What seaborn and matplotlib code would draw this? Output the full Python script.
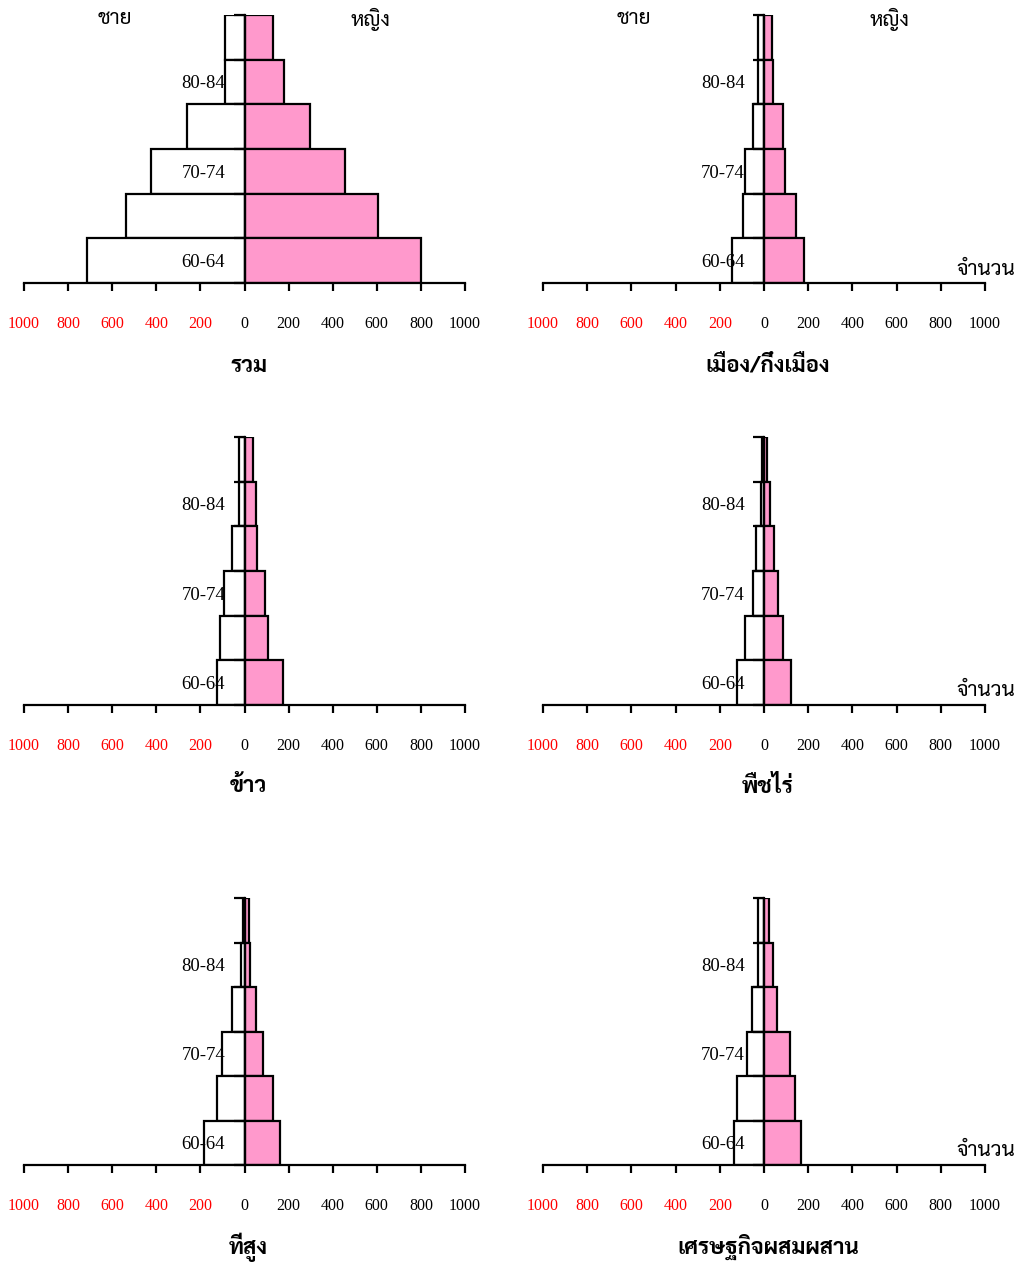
import numpy as np
import pandas as pd
import matplotlib
matplotlib.use('Agg')
import matplotlib.pyplot as plt
import seaborn as sns
from matplotlib import font_manager as fm
from matplotlib.ticker import FixedLocator

# ---------------- data ----------------
ages = ['60-64', '65-69', '70-74', '75-79', '80-84', '85+']
age_tick_labels = ['60-64', '', '70-74', '', '80-84', '']
x_ticks = [-1000, -800, -600, -400, -200, 0, 200, 400, 600, 800, 1000]
x_tick_labels = ['1000', '800', '600', '400', '200', '0', '200', '400', '600', '800', '1000']

total_male = [713, 538, 422, 262, 88, 88]
total_female = [801, 606, 454, 295, 178, 128]
urban_male = [146, 95, 87, 51, 25, 25]
urban_female = [180, 143, 94, 86, 42, 38]
rice_male = [124, 109, 94, 58, 23, 23]
rice_female = [174, 107, 94, 56, 53, 38]
field_male = [121, 86, 50, 35, 14, 8]
field_female = [124, 87, 65, 44, 25, 15]
highland_male = [183, 124, 101, 58, 15, 8]
highland_female = [159, 130, 86, 50, 27, 19]
mixed_male = [137, 121, 78, 56, 25, 25]
mixed_female = [168, 139, 116, 59, 42, 23]

panel_titles = ['รวม', 'เมือง/กึ่งเมือง', 'ข้าว', 'พืชไร่', 'ที่สูง', 'เศรษฐกิจผสมผสาน']
male_label = 'ชาย'
female_label = 'หญิง'
count_label = 'จำนวน'

male_series = [total_male, urban_male, rice_male, field_male, highland_male, mixed_male]
female_series = [total_female, urban_female, rice_female, field_female, highland_female, mixed_female]

# ---------------- fonts ----------------
sns.set_style('white')
plt.rcParams['text.color'] = 'black'


def find_thai_font():
    try:
        from fontTools.ttLib import TTFont
    except Exception:
        return None
    cands = []
    for f in fm.fontManager.ttflist:
        try:
            tt = TTFont(f.fname, fontNumber=0, lazy=True)
            cmap = tt.getBestCmap()
            if cmap and 0x0E0A in cmap and 0x0E0D in cmap:
                cands.append(f.name)
        except Exception:
            pass
    if not cands:
        return None
    pref = ['Norasi', 'Sarabun', 'Noto Serif Thai', 'Noto Sans Thai', 'Garuda', 'Loma', 'Tlwg']
    for p in pref:
        for c in cands:
            if p.lower() in c.lower():
                return c
    return cands[0]


thai_font = find_thai_font()
thai_family = [thai_font, 'DejaVu Sans'] if thai_font else ['DejaVu Sans']
num_family = ['Liberation Serif', 'DejaVu Serif']
plt.rcParams['font.family'] = num_family

W, H = 1019, 1266
fig = plt.figure(figsize=(W / 100, H / 100), dpi=100)
fig.patch.set_facecolor('white')

# pixel geometry of plot areas (left, right, top, bottom)
cols = [(24, 465), (543, 985)]
rows = [(15, 283), (437, 705), (898, 1165)]
title_y = [366, 787, 1247]

female_color = '#FF99CC'
order_top_down = ages[::-1]

for i in range(6):
    r, c = divmod(i, 2)
    x0, x1 = cols[c]
    y0, y1 = rows[r]
    ax = fig.add_axes([x0 / W, 1 - y1 / H, (x1 - x0) / W, (y1 - y0) / H])
    df = pd.DataFrame({'age': ages,
                       'male': [-v for v in male_series[i]],
                       'female': female_series[i]})
    sns.barplot(data=df, x='male', y='age', order=order_top_down, orient='h',
                color='white', saturation=1, edgecolor='black', linewidth=1.6,
                width=1.0, ax=ax, errorbar=None)
    sns.barplot(data=df, x='female', y='age', order=order_top_down, orient='h',
                color=female_color, saturation=1, edgecolor='black', linewidth=1.6,
                width=1.0, ax=ax, errorbar=None)
    ax.set_axisbelow(False)
    ax.set_xlim(-1000, 1000)
    ax.set_ylim(5.5, -0.5)
    ax.set_xlabel('')
    ax.set_ylabel('')
    for s in ['top', 'right']:
        ax.spines[s].set_visible(False)
    ax.spines['left'].set_position(('data', 0))
    ax.spines['left'].set_linewidth(1.6)
    ax.spines['bottom'].set_linewidth(1.6)
    ax.spines['left'].set_color('black')
    ax.spines['bottom'].set_color('black')
    ax.set_facecolor('none')

    # x axis
    ax.xaxis.set_major_locator(FixedLocator(x_ticks))
    ax.set_xticklabels(x_tick_labels, fontsize=11.5, family=num_family)
    ax.tick_params(axis='x', direction='out', length=6, width=1.6, colors='black',
                   bottom=True, pad=17.5)
    for tl, v in zip(ax.get_xticklabels(), x_ticks):
        tl.set_color('red' if v < 0 else 'black')

    # y axis (category labels next to zero line)
    ax.yaxis.set_major_locator(FixedLocator(list(range(6))))
    ax.set_yticklabels(age_tick_labels[::-1], fontsize=13.5, family=num_family)
    ax.yaxis.set_minor_locator(FixedLocator([k - 0.5 for k in range(7)]))
    ax.tick_params(axis='y', which='major', length=0, pad=14, colors='black', left=True)
    ax.tick_params(axis='y', which='minor', length=8, width=1.6, direction='out',
                   colors='black', left=True)

    cx = (x0 + x1) / 2
    fig.text(cx / W + 0.004, 1 - title_y[r] / H, panel_titles[i], ha='center', va='center',
             fontsize=16, fontweight='bold', family=thai_family, color='black')
    if r == 0:
        fig.text((x0 + 91) / W, 1 - 19 / H, male_label, ha='center', va='center',
                 fontsize=15, family=thai_family, color='black')
        fig.text((x0 + 346) / W, 1 - 19 / H, female_label, ha='center', va='center',
                 fontsize=15, family=thai_family, color='black')
    if c == 1:
        fig.text(1015 / W, 1 - (y1 - 14) / H, count_label, ha='right', va='center',
                 fontsize=15, family=thai_family, color='black')

fig.savefig('out.png', dpi=100, facecolor='white')
